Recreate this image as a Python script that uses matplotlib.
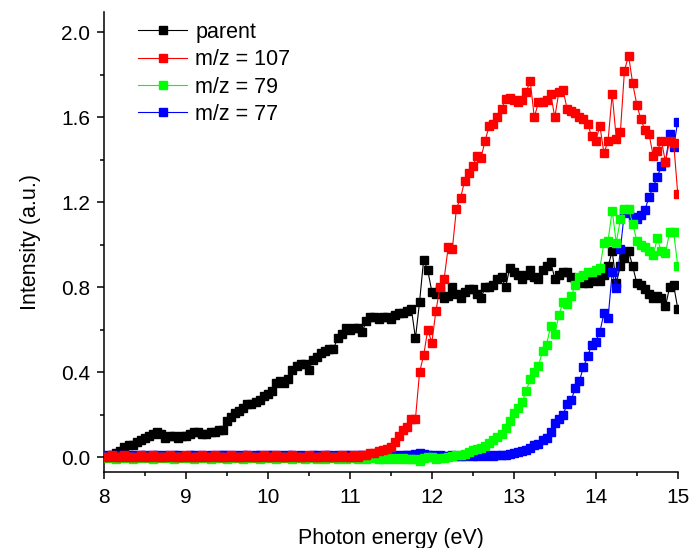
import numpy as np
import matplotlib

matplotlib.use("Agg")

import matplotlib.pyplot as plt
from matplotlib.ticker import MultipleLocator, FormatStrFormatter

plt.rcParams['font.family'] = ['Liberation Sans', 'DejaVu Sans']

# photon energy scan grid, 0.05 eV steps from 8 to 15 eV
energy = np.round(np.arange(8.0, 15.0001, 0.05), 2)

parent = [
    0.00, 0.00, 0.01, 0.02, 0.03, 0.05, 0.06, 0.06, 0.07, 0.08,
    0.09, 0.10, 0.11, 0.12, 0.11, 0.09, 0.10, 0.10, 0.09, 0.10,
    0.10, 0.11, 0.12, 0.12, 0.11, 0.11, 0.12, 0.12, 0.13, 0.13,
    0.17, 0.19, 0.21, 0.22, 0.23, 0.25, 0.25, 0.26, 0.27, 0.29,
    0.30, 0.31, 0.35, 0.36, 0.35, 0.37, 0.41, 0.43, 0.44, 0.44,
    0.41, 0.46, 0.47, 0.49, 0.50, 0.51, 0.51, 0.56, 0.58, 0.61,
    0.60, 0.61, 0.61, 0.59, 0.64, 0.66, 0.66, 0.65, 0.66, 0.66,
    0.65, 0.67, 0.68, 0.68, 0.69, 0.70, 0.56, 0.73, 0.93, 0.88,
    0.78, 0.77, 0.79, 0.75, 0.76, 0.80, 0.77, 0.75, 0.78, 0.79,
    0.79, 0.77, 0.75, 0.80, 0.80, 0.81, 0.84, 0.85, 0.80, 0.89,
    0.87, 0.86, 0.84, 0.86, 0.88, 0.85, 0.84, 0.88, 0.90, 0.92,
    0.84, 0.86, 0.87, 0.87, 0.85, 0.84, 0.83, 0.82, 0.82, 0.83,
    0.84, 0.83, 0.86, 0.90, 0.97, 0.82, 0.90, 0.94, 0.97, 0.90,
    0.82, 0.81, 0.79, 0.77, 0.75, 0.76, 0.75, 0.71, 0.80, 0.81,
    0.70,
]

mz107 = [
    0.00, 0.00, 0.01, 0.00, 0.00, 0.01, 0.00, 0.00, 0.00, 0.01,
    0.00, 0.00, 0.01, 0.00, 0.00, 0.00, 0.01, 0.00, 0.00, 0.00,
    0.01, 0.00, 0.00, 0.00, 0.01, 0.00, 0.00, 0.01, 0.00, 0.00,
    0.00, 0.01, 0.00, 0.00, 0.00, 0.01, 0.00, 0.00, 0.00, 0.01,
    0.00, 0.00, 0.01, 0.00, 0.00, 0.00, 0.01, 0.00, 0.00, 0.00,
    0.01, 0.00, 0.00, 0.00, 0.01, 0.00, 0.00, 0.00, 0.01, 0.00,
    0.00, 0.01, 0.00, 0.01, 0.01,
    0.02, 0.02, 0.03, 0.035, 0.04, 0.05, 0.07, 0.10, 0.13, 0.145,
    0.18, 0.18, 0.40, 0.48, 0.60, 0.54, 0.69, 0.80, 0.84, 0.99,
    0.98, 1.17, 1.22, 1.30, 1.34, 1.37, 1.42, 1.41, 1.49, 1.56,
    1.57, 1.60, 1.64, 1.685, 1.69, 1.68, 1.67, 1.68, 1.72, 1.77,
    1.60, 1.67, 1.67, 1.68, 1.71, 1.60, 1.72, 1.73, 1.64, 1.63,
    1.62, 1.60, 1.59, 1.57, 1.51, 1.49, 1.56, 1.43, 1.49, 1.71,
    1.50, 1.53, 1.82, 1.89, 1.76, 1.66, 1.59, 1.54, 1.52, 1.42,
    1.44, 1.49, 1.39, 1.49, 1.48, 1.24,
]

mz79 = [
    0.00, -0.005, 0.00, -0.01, 0.00, -0.005, 0.00, -0.01, -0.005, 0.00,
    -0.005, 0.00, -0.01, 0.00, -0.005, 0.00, -0.005, -0.01, 0.00, -0.005,
    0.00, -0.005, -0.01, 0.00, -0.005, 0.00, -0.01, -0.005, 0.00, -0.005,
    -0.01, 0.00, -0.005, 0.00, -0.01, -0.005, 0.00, -0.005, -0.01, 0.00,
    -0.005, 0.00, -0.01, -0.005, 0.00, -0.005, -0.01, 0.00, -0.005, -0.01,
    0.00, -0.005, -0.01, 0.00, -0.01, -0.005, 0.00, -0.01, -0.005, -0.01,
    -0.005, 0.00, -0.01, -0.005, -0.01, 0.00, -0.005, -0.01, -0.01, -0.005,
    -0.01, -0.005, -0.01, -0.005, -0.01, -0.01,
    -0.01, -0.015, -0.005, 0.00, 0.00, -0.01, -0.005, -0.005, 0.00, 0.005,
    0.01, 0.01, 0.015, 0.025, 0.035, 0.04, 0.045, 0.055, 0.066, 0.08,
    0.095, 0.11, 0.14, 0.17, 0.21, 0.23, 0.26, 0.31, 0.37, 0.40,
    0.43, 0.50, 0.53, 0.62, 0.58, 0.67, 0.73, 0.72, 0.76, 0.81,
    0.85, 0.86, 0.87, 0.87, 0.88, 0.89, 1.01, 1.02, 1.16, 1.01,
    1.12, 1.17, 1.17, 1.10, 1.02, 1.00, 0.99, 0.97, 0.95, 1.03,
    0.97, 0.96, 1.06, 1.06, 0.90,
]

mz77 = [
    0.01, 0.005, 0.01, 0.005, 0.01, 0.01, 0.005, 0.01, 0.005, 0.01,
    0.01, 0.005, 0.01, 0.01, 0.005, 0.01, 0.005, 0.01, 0.01, 0.005,
    0.005, 0.01, 0.01, 0.005, 0.01, 0.005, 0.01, 0.005, 0.01, 0.01,
    0.01, 0.005, 0.01, 0.005, 0.01, 0.01, 0.005, 0.01, 0.01, 0.005,
    0.01, 0.01, 0.005, 0.01, 0.005, 0.01, 0.01, 0.005, 0.01, 0.005,
    0.005, 0.01, 0.01, 0.005, 0.01, 0.01, 0.005, 0.01, 0.005, 0.01,
    0.01, 0.005, 0.01, 0.01, 0.005, 0.01, 0.01, 0.005, 0.01, 0.01,
    0.01, 0.01, 0.005, 0.01, 0.01, 0.01, 0.015, 0.02, 0.015, 0.01,
    0.01, 0.005, 0.01, 0.005, 0.005, 0.01, 0.005, 0.005, 0.005, 0.01,
    0.005, 0.005, 0.01, 0.005, 0.01, 0.005, 0.01, 0.01, 0.01,
    0.015, 0.02, 0.025, 0.03, 0.035, 0.045, 0.058, 0.065, 0.08, 0.09,
    0.12, 0.16, 0.18, 0.20, 0.25, 0.27, 0.325, 0.36, 0.425, 0.475,
    0.53, 0.545, 0.59, 0.68, 0.655, 0.87, 0.795, 0.98, 1.155, 1.15,
    1.13, 1.12, 1.14, 1.165, 1.225, 1.27, 1.32, 1.37, 1.39, 1.52,
    1.46, 1.58,
]

series = [
    ('parent', parent, '#000000', 2),
    ('m/z = 107', mz107, '#ff0000', 5),
    ('m/z = 79', mz79, '#00ff00', 4),
    ('m/z = 77', mz77, '#0000ff', 3),
]

fig = plt.figure(figsize=(6.93, 5.48), dpi=100)
ax = fig.add_axes([0.150, 0.139, 0.828, 0.839])

for label, vals, color, z in series:
    ax.plot(energy, vals, color=color, lw=0.8, marker='s', ms=6,
            mec=color, mfc=color, label=label, zorder=z)

ax.set_xlim(8, 15)
ax.set_ylim(-0.068, 2.095)
ax.xaxis.set_major_locator(MultipleLocator(1))
ax.xaxis.set_minor_locator(MultipleLocator(0.5))
ax.yaxis.set_major_locator(MultipleLocator(0.4))
ax.yaxis.set_minor_locator(MultipleLocator(0.2))
ax.xaxis.set_major_formatter(FormatStrFormatter('%d'))
ax.yaxis.set_major_formatter(FormatStrFormatter('%.1f'))

for side in ('top', 'right'):
    ax.spines[side].set_visible(False)
for side in ('left', 'bottom'):
    ax.spines[side].set_linewidth(1.1)

ax.tick_params(which='major', direction='out', length=5, width=1.1,
               labelsize=15, pad=5)
ax.tick_params(axis='x', which='major', pad=6.5)
ax.tick_params(which='minor', direction='out', length=3, width=1.1)

ax.set_xlabel('Photon energy (eV)', fontsize=15.5, labelpad=15)
ax.set_ylabel('Intensity (a.u.)', fontsize=15.5, labelpad=14)

ax.legend(loc='upper left', bbox_to_anchor=(0.044, 0.998), frameon=False,
          fontsize=15.5, handlelength=2.3, handletextpad=0.37,
          labelspacing=0.3, borderaxespad=0.0)

fig.savefig('out.png', dpi=100)
